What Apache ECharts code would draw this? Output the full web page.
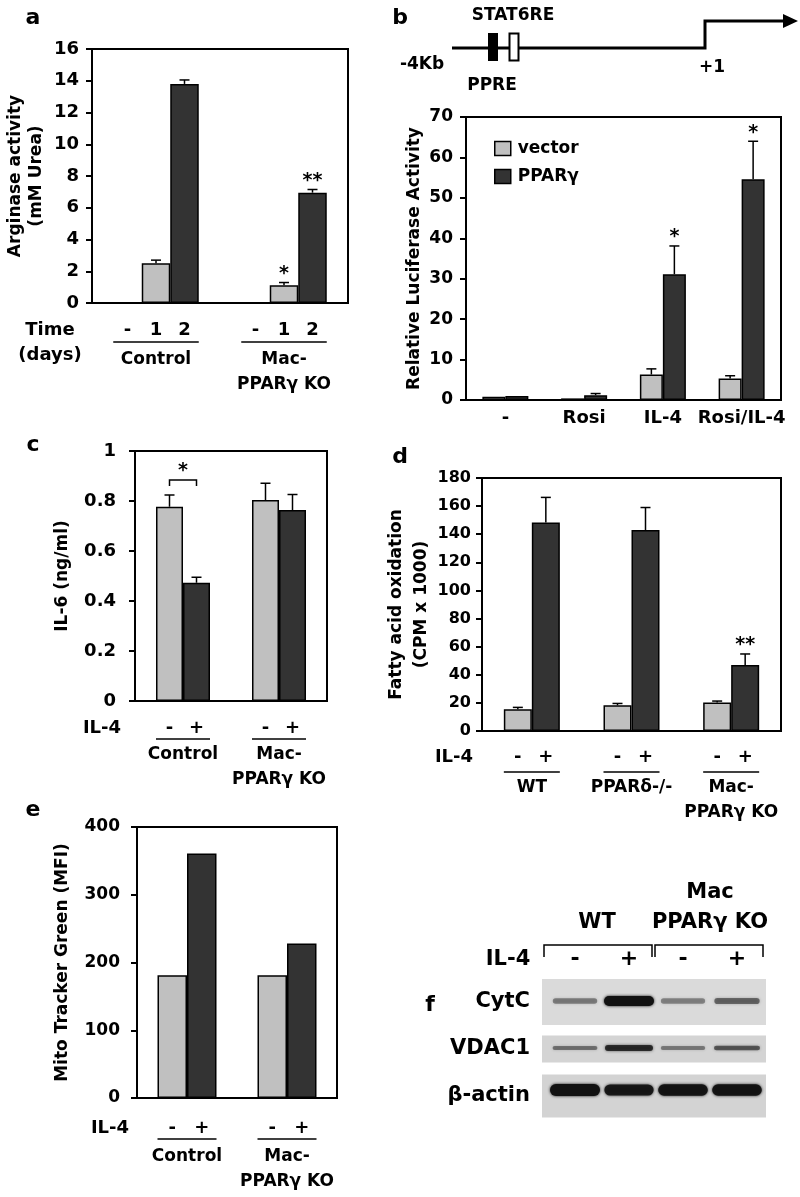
<!DOCTYPE html>
<html><head><meta charset="utf-8">
<script src="https://cdn.jsdelivr.net/npm/echarts@6/dist/echarts.min.js"></script>
<style>html,body{margin:0;padding:0;background:#fff}#c{width:800px;height:1197px}</style>
</head><body><div id="c"></div>
<script>
// ---------------- DATA ----------------
// Panel a: Arginase activity (mM Urea)
const aGroups = ['Control', 'Mac-\nPPARγ KO'];
const aTimeLabels = ['-', '1', '2'];
const aDay0 = [0, 0];
const aDay1 = [2.5, 1.12];
const aDay1Err = [0.2, 0.17];
const aDay2 = [13.8, 6.95];
const aDay2Err = [0.25, 0.2];
const aDay1Stars = ['', '*'];
const aDay2Stars = ['', '**'];

// Panel b: Relative luciferase activity
const bCats = ['-', 'Rosi', 'IL-4', 'Rosi/IL-4'];
const bVector = [0.8, 0.4, 6.3, 5.3];
const bVectorErr = [0.1, 0.1, 1.4, 0.7];
const bPPARg = [1.0, 1.2, 31.1, 54.6];
const bPPARgErr = [0.1, 0.4, 7.0, 9.4];
const bPPARgStars = ['', '', '*', '*'];

// Panel c: IL-6 (ng/ml)
const cGroups = ['Control', 'Mac-\nPPARγ KO'];
const cIL4Labels = ['-', '+'];
const cMinus = [0.777, 0.804];
const cMinusErr = [0.047, 0.067];
const cPlus = [0.473, 0.764];
const cPlusErr = [0.022, 0.062];

// Panel d: Fatty acid oxidation (CPM x 1000)
const dGroups = ['WT', 'PPARδ-/-', 'Mac-\nPPARγ KO'];
const dMinus = [15.4, 18.3, 20.3];
const dMinusErr = [1.4, 1.3, 1.0];
const dPlus = [148.4, 143, 47];
const dPlusErr = [17.8, 16, 7.8];
const dPlusStars = ['', '', '**'];

// Panel e: Mito Tracker Green (MFI)
const eGroups = ['Control', 'Mac-\nPPARγ KO'];
const eMinus = [181, 181];
const ePlus = [361, 228];

// Panel f: western blot (relative band intensity, 0-1)
const fLanes = ['WT-', 'WT+', 'KO-', 'KO+'];
const fLaneIL4 = ['-', '+', '-', '+'];
const fRows = ['CytC', 'VDAC1', 'β-actin'];
const fCytC = [0.3, 1.0, 0.28, 0.42];
const fVDAC1 = [0.35, 0.75, 0.3, 0.5];
const fActin = [1.0, 0.9, 0.95, 0.95];

// ---------------- STYLE / BUILD ----------------
const FONT = 'DejaVu Sans';
const LIGHT = '#c0c0c0', DARK = '#333333';
const txt = (size) => ({fontFamily: FONT, fontWeight: 'bold', fontSize: size, color: '#000'});
const fnt = (size) => 'bold ' + size + 'px "' + FONT + '"';
function tEl(text, x, y, size, align, valign, lh) {
  return {type: 'text', style: {text: text, x: x, y: y, font: fnt(size), fill: '#000',
    textAlign: align, align: align, textVerticalAlign: valign, verticalAlign: valign, lineHeight: lh || size + 4}};
}
function lEl(x1, y1, x2, y2, w) {
  return {type: 'line', shape: {x1: x1, y1: y1, x2: x2, y2: y2}, style: {stroke: '#000', lineWidth: w || 1.5}};
}

const grids = [], xAxes = [], yAxes = [], series = [];

function errorSeries(idx, values, errs, stars, k, n, barW) {
  return {
    type: 'custom', xAxisIndex: idx, yAxisIndex: idx, z: 4, silent: true,
    data: values.map((v, i) => [i, v, v + (errs ? errs[i] : 0)]),
    renderItem(params, api) {
      const i = api.value(0);
      const p0 = api.coord([i, api.value(1)]);
      const p1 = api.coord([i, api.value(2)]);
      const x = p0[0] + (k - (n - 1) / 2) * barW;
      const ch = [];
      if (p1[1] < p0[1] - 0.5) {
        ch.push(lEl(x, p0[1], x, p1[1], 1.5));
        ch.push(lEl(x - 5, p1[1], x + 5, p1[1], 1.5));
      }
      const s = stars ? stars[params.dataIndex] : '';
      if (s) ch.push(tEl(s, x, p1[1] + 3, 19, 'center', 'bottom'));
      return {type: 'group', children: ch};
    }
  };
}

function groupSeries(idx, cfg, n) {
  return {
    type: 'custom', xAxisIndex: idx, yAxisIndex: idx, z: 3, silent: true,
    data: cfg.cats.map((c, i) => [i, cfg.min]),
    renderItem(params, api) {
      const i = api.value(0);
      const p = api.coord([i, cfg.min]);
      const ch = [];
      cfg.subLabels.forEach((t, k) => {
        const x = p[0] + (k - (n - 1) / 2) * cfg.barW;
        ch.push(tEl(t, x, p[1] + cfg.subDy, 18, 'center', 'middle'));
      });
      const half = n * cfg.barW / 2;
      ch.push(lEl(p[0] - half, p[1] + cfg.lineDy, p[0] + half, p[1] + cfg.lineDy, 1.5));
      ch.push(tEl(cfg.cats[i], p[0], p[1] + cfg.nameDy - 12.5, 17, 'center', 'top', 25));
      return {type: 'group', children: ch};
    }
  };
}

function addPanel(cfg) {
  const idx = grids.length;
  grids.push({left: cfg.left, top: cfg.top, width: cfg.right - cfg.left, height: cfg.bottom - cfg.top,
    show: true, borderColor: '#000', borderWidth: 2, containLabel: false});
  xAxes.push({gridIndex: idx, type: 'category', data: cfg.cats,
    axisLine: {show: true, onZero: false, lineStyle: {color: '#000', width: 2}}, axisTick: {show: false},
    axisLabel: cfg.xLabel ? Object.assign({show: true, margin: 9, interval: 0}, txt(18)) : {show: false},
    splitLine: {show: false}});
  yAxes.push({gridIndex: idx, type: 'value', min: cfg.min, max: cfg.max, interval: cfg.interval,
    name: cfg.yName, nameLocation: 'middle', nameGap: cfg.nameGap, nameRotate: 90,
    nameTextStyle: Object.assign({lineHeight: cfg.nameLH || 22}, txt(17)),
    axisLine: {show: true, lineStyle: {color: '#000', width: 2}},
    axisTick: {show: true, length: 6, lineStyle: {color: '#000', width: 2}},
    axisLabel: Object.assign({margin: cfg.tickMargin}, txt(cfg.tickSize)), splitLine: {show: false}});
  const n = cfg.series.length;
  cfg.series.forEach((s, k) => {
    series.push({type: 'bar', name: s.name, xAxisIndex: idx, yAxisIndex: idx, data: s.values,
      barWidth: cfg.barW, barGap: '0%',
      itemStyle: {color: s.color, borderColor: '#000', borderWidth: s.noBorder ? 0 : 1.5},
      emphasis: {disabled: true}, z: 2, animation: false});
    if (s.errs || s.stars) series.push(errorSeries(idx, s.values, s.errs, s.stars, k, n, cfg.barW));
  });
  if (cfg.subLabels) series.push(groupSeries(idx, cfg, n));
  return idx;
}

// a
addPanel({left: 92, right: 348, top: 49, bottom: 303, min: 0, max: 16, interval: 2,
  tickSize: 18, tickMargin: 13,
  yName: 'Arginase activity\n(mM Urea)', nameGap: 45, nameLH: 21, cats: aGroups, barW: 28.5,
  subLabels: aTimeLabels, subDy: 27, lineDy: 39, nameDy: 57,
  series: [
    {name: 'day0', values: aDay0, color: LIGHT, noBorder: true},
    {name: 'day1', values: aDay1, errs: aDay1Err, stars: aDay1Stars, color: LIGHT},
    {name: 'day2', values: aDay2, errs: aDay2Err, stars: aDay2Stars, color: DARK}
  ]});
// b
addPanel({left: 466, right: 781, top: 117, bottom: 400, min: 0, max: 70, interval: 10,
  tickSize: 17, tickMargin: 13,
  yName: 'Relative Luciferase Activity', nameGap: 35, cats: bCats, barW: 23, xLabel: true,
  series: [
    {name: 'vector', values: bVector, errs: bVectorErr, color: LIGHT},
    {name: 'PPARγ', values: bPPARg, errs: bPPARgErr, stars: bPPARgStars, color: DARK}
  ]});
// c
const cIdx = addPanel({left: 135, right: 327, top: 451, bottom: 701, min: 0, max: 1, interval: 0.2,
  tickSize: 18, tickMargin: 19,
  yName: 'IL-6 (ng/ml)', nameGap: 61, cats: cGroups, barW: 27,
  subLabels: cIL4Labels, subDy: 27, lineDy: 38, nameDy: 54,
  series: [
    {name: 'c-', values: cMinus, errs: cMinusErr, color: LIGHT},
    {name: 'c+', values: cPlus, errs: cPlusErr, color: DARK}
  ]});
// significance bracket in c (between the two Control bars)
series.push({type: 'custom', xAxisIndex: cIdx, yAxisIndex: cIdx, silent: true, z: 5,
  data: [[0, 0.884, 0.86]],
  renderItem(params, api) {
    const p = api.coord([api.value(0), api.value(1)]);
    const q = api.coord([api.value(0), api.value(2)]);
    const x1 = p[0] - 13.5, x2 = p[0] + 13.5;
    return {type: 'group', children: [
      {type: 'polyline', shape: {points: [[x1, q[1]], [x1, p[1]], [x2, p[1]], [x2, q[1]]]},
        style: {stroke: '#000', lineWidth: 1.5, fill: null}},
      tEl('*', p[0], p[1] + 3, 19, 'center', 'bottom')
    ]};
  }});
// d
addPanel({left: 482, right: 781, top: 478, bottom: 731, min: 0, max: 180, interval: 20,
  tickSize: 16, tickMargin: 11,
  yName: 'Fatty acid oxidation\n(CPM x 1000)', nameGap: 42, nameLH: 25, cats: dGroups, barW: 28,
  subLabels: cIL4Labels, subDy: 26, lineDy: 41, nameDy: 57,
  series: [
    {name: 'd-', values: dMinus, errs: dMinusErr, color: LIGHT},
    {name: 'd+', values: dPlus, errs: dPlusErr, stars: dPlusStars, color: DARK}
  ]});
// e
addPanel({left: 137, right: 337, top: 827, bottom: 1098, min: 0, max: 400, interval: 100,
  tickSize: 17, tickMargin: 17,
  yName: 'Mito Tracker Green (MFI)', nameGap: 63, cats: eGroups, barW: 29.5,
  subLabels: cIL4Labels, subDy: 30, lineDy: 41, nameDy: 59,
  series: [
    {name: 'e-', values: eMinus, color: LIGHT},
    {name: 'e+', values: ePlus, color: DARK}
  ]});

// f: western blot
const fIdx = grids.length;
grids.push({left: 548, top: 978.5, width: 216, height: 141, show: false});
xAxes.push({gridIndex: fIdx, type: 'category', position: 'top', data: fLanes,
  axisLine: {show: false}, axisTick: {show: false},
  axisLabel: Object.assign({margin: 8, formatter: (v, i) => fLaneIL4[i]}, txt(22)), splitLine: {show: false}});
yAxes.push({gridIndex: fIdx, type: 'category', inverse: true, data: fRows,
  axisLine: {show: false}, axisTick: {show: false},
  axisLabel: Object.assign({margin: 18}, txt(21)), splitLine: {show: false}});
const stripH = [46, 27, 43];
const stripFill = ['#dadada', '#d4d4d4', '#d3d3d3'];
const bandMaxH = [10, 7, 12];
const bandDy = [-1, -1, -6];
series.push({type: 'custom', xAxisIndex: fIdx, yAxisIndex: fIdx, silent: true, z: 1,
  data: fRows.map((r, i) => [0, i]),
  renderItem(params, api) {
    const cs = params.coordSys;
    const c = api.coord([0, api.value(1)]);
    const h = stripH[params.dataIndex];
    return {type: 'rect', shape: {x: cs.x - 6, y: c[1] - h / 2, width: cs.width + 8, height: h},
      style: {fill: stripFill[params.dataIndex]}};
  }});
const fBands = [fCytC, fVDAC1, fActin];
const bandData = [];
fBands.forEach((row, r) => row.forEach((v, l) => bandData.push([l, r, v])));
series.push({type: 'custom', xAxisIndex: fIdx, yAxisIndex: fIdx, silent: true, z: 2,
  data: bandData,
  renderItem(params, api) {
    const l = api.value(0), r = api.value(1), I = api.value(2);
    const c = api.coord([l, r]);
    const h = bandMaxH[r] * (0.35 + 0.65 * I);
    const w = 42 + 8 * I;
    const col = 'rgba(18,18,18,' + (0.15 + 0.85 * I).toFixed(2) + ')';
    return {type: 'rect', shape: {x: c[0] - w / 2, y: c[1] + bandDy[r] - h / 2, width: w, height: h, r: h / 2},
      style: {fill: col, shadowBlur: 3, shadowColor: col}};
  }});

// ---------------- GRAPHIC (layout text / diagram) ----------------
const graphics = [
  tEl('a', 33, 18, 22, 'center', 'middle'),
  tEl('b', 400, 18, 22, 'center', 'middle'),
  tEl('c', 33, 445, 22, 'center', 'middle'),
  tEl('d', 400, 457, 22, 'center', 'middle'),
  tEl('e', 33, 810, 22, 'center', 'middle'),
  tEl('f', 430, 1005, 22, 'center', 'middle'),
  // a row labels
  tEl('Time\n(days)', 50, 330 - 12.5, 18, 'center', 'top', 25),
  // IL-4 row labels
  tEl('IL-4', 102, 728, 18, 'center', 'middle'),
  tEl('IL-4', 454, 757, 18, 'center', 'middle'),
  tEl('IL-4', 110, 1128, 18, 'center', 'middle'),
  // promoter diagram (b)
  {type: 'polyline', shape: {points: [[452, 48], [705, 48], [705, 21], [788, 21]]}, style: {stroke: '#000', lineWidth: 3, fill: null}},
  {type: 'polygon', shape: {points: [[783, 14], [798, 21], [783, 28]]}, style: {fill: '#000'}},
  {type: 'rect', shape: {x: 488, y: 33, width: 10, height: 28}, style: {fill: '#000'}},
  {type: 'rect', shape: {x: 509.5, y: 33.5, width: 9, height: 27}, style: {fill: '#fff', stroke: '#000', lineWidth: 2}},
  tEl('STAT6RE', 513, 16, 17, 'center', 'middle'),
  tEl('-4Kb', 422, 65, 17, 'center', 'middle'),
  tEl('PPRE', 492, 86, 17, 'center', 'middle'),
  tEl('+1', 712, 68, 17, 'center', 'middle'),
  // f headers
  tEl('Mac', 710, 893, 21, 'center', 'middle'),
  tEl('WT', 597, 923, 21, 'center', 'middle'),
  tEl('PPARγ KO', 710, 923, 21, 'center', 'middle'),
  tEl('IL-4', 508, 960, 21, 'center', 'middle'),
  {type: 'polyline', shape: {points: [[544, 957], [544, 945], [652, 945], [652, 957]]}, style: {stroke: '#000', lineWidth: 1.5, fill: null}},
  {type: 'polyline', shape: {points: [[655, 957], [655, 945], [763, 945], [763, 957]]}, style: {stroke: '#000', lineWidth: 1.5, fill: null}}
];

const chart = echarts.init(document.getElementById('c'), null, {renderer: 'canvas'});
chart.setOption({
  animation: false,
  backgroundColor: '#fff',
  textStyle: {fontFamily: FONT},
  grid: grids, xAxis: xAxes, yAxis: yAxes, series: series,
  legend: {data: ['vector', 'PPARγ'], orient: 'vertical', left: 489, top: 135,
    itemWidth: 16, itemHeight: 14, itemGap: 11, icon: 'rect',
    itemStyle: {borderColor: '#000', borderWidth: 1.5},
    textStyle: Object.assign({padding: [0, 0, 0, 2]}, txt(17)), selectedMode: false},
  graphic: {elements: graphics}
});
</script></body></html>
